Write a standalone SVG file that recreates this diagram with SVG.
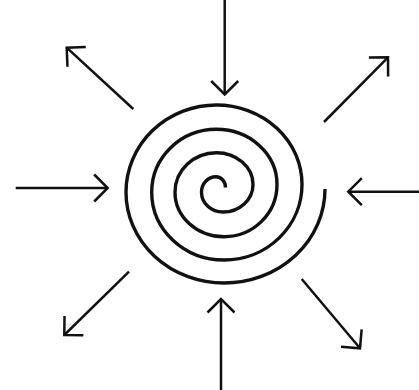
<svg xmlns="http://www.w3.org/2000/svg" width="419" height="390" viewBox="0 0 419 390">
<style>
.arrow{fill:none;stroke:#111;stroke-width:2.5;stroke-linecap:butt;marker-end:url(#head)}
.spiral{fill:none;stroke:#111;stroke-width:3.4;stroke-linecap:butt}
</style>
<defs>
<marker id="head" markerUnits="userSpaceOnUse" orient="auto" refX="0" refY="0" markerWidth="30" markerHeight="30" overflow="visible">
<path d="M-13.5,-13.5 L0,0 L-13.5,13.5" fill="none" stroke="#111" stroke-width="2.5" stroke-linejoin="miter"/>
</marker>
</defs>
<rect width="419" height="390" fill="#fff"/>
<g id="spiral">
<path class="spiral" d="M325,189 A100.8,94 0 0 1 224.2,283 A98.2,90.8 0 0 1 126,192.2 A90.4,87.2 0 0 1 216.4,105 A85.6,79.4 0 0 1 302,184.4 A77.8,75.6 0 0 1 224.2,260 A72.5,67.8 0 0 1 151.7,192.2 A64.7,62.9 0 0 1 216.4,129.3 A60.6,55.1 0 0 1 277,184.4 A52.8,52.3 0 0 1 224.2,236.7 A49.2,44.5 0 0 1 175,192.2 A41.4,39.5 0 0 1 216.4,152.7 A36.6,31.7 0 0 1 253,184.4 A30,27.6 0 0 1 223,212 A21.5,19.8 0 0 1 201.5,192.2 A14.5,15.5 0 0 1 216,176.7 A9.5,10.8 0 0 1 225.5,187.5"/>
</g>
<g id="connectors">
<line id="arrow-top" class="arrow" x1="224.7" y1="0" x2="224.7" y2="94.5"/>
<line id="arrow-left" class="arrow" x1="15.7" y1="188" x2="107.7" y2="188"/>
<line id="arrow-right" class="arrow" x1="419" y1="191.7" x2="348.3" y2="191.7"/>
<line id="arrow-bottom" class="arrow" x1="221" y1="390" x2="221" y2="299"/>
<line id="arrow-top-left" class="arrow" x1="133.3" y1="109" x2="66.7" y2="47.7"/>
<line id="arrow-top-right" class="arrow" x1="324" y1="122" x2="388" y2="57.3"/>
<line id="arrow-bottom-left" class="arrow" x1="129" y1="271.7" x2="64.3" y2="335"/>
<line id="arrow-bottom-right" class="arrow" x1="301.7" y1="279" x2="360" y2="348.3"/>
</g>
</svg>
